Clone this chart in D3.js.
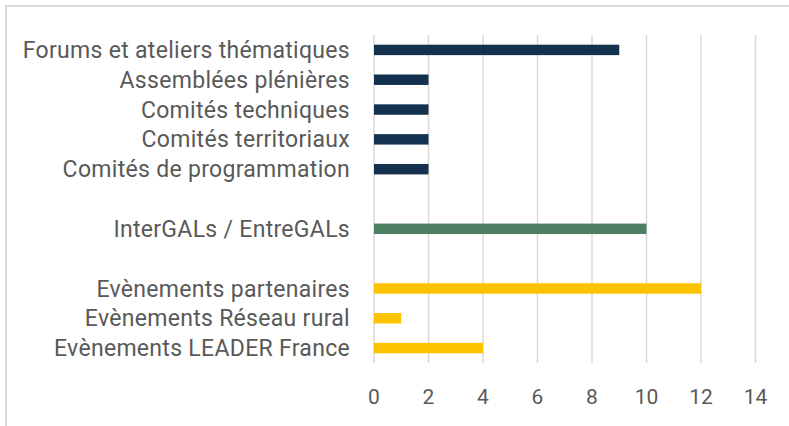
<!DOCTYPE html>
<html>
<head>
<meta charset="utf-8">
<script src="https://cdn.jsdelivr.net/npm/d3@7"></script>
<style>
  body { margin: 0; background: #fff; }
  svg text { font-family: Roboto, "Noto Sans", sans-serif; fill: #595959; }
</style>
</head>
<body>
<div id="chart"></div>
<script>
// categories top to bottom, blank entries are the gaps between groups
const categories = [
    "Forums et ateliers thématiques",
    "Assemblées plénières",
    "Comités techniques",
    "Comités territoriaux",
    "Comités de programmation",
    "",
    "InterGALs / EntreGALs",
    " ",
    "Evènements partenaires",
    "Evènements Réseau rural",
    "Evènements LEADER France"
];
const values = [9, 2, 2, 2, 2, null, 10, null, 12, 1, 4];
const groups = ["a", "a", "a", "a", "a", null, "b", null, "c", "c", "c"];
const xTicks = [0, 2, 4, 6, 8, 10, 12, 14];

const groupColor = { a: "#14324f", b: "#4e7e62", c: "#fcc300" };

const width = 789, height = 426;
const svg = d3.select("#chart").append("svg")
    .attr("width", width)
    .attr("height", height);

// outer frame
svg.append("path")
    .attr("d", `M6,${height} L6,6 L${width},6`)
    .attr("fill", "none")
    .attr("stroke", "#d9d9d9")
    .attr("stroke-width", 2);

const x = d3.scaleLinear().domain([0, 14]).range([374, 755.5]);
const y = d3.scaleBand().domain(categories).range([35, 363]).paddingInner(0.65).paddingOuter(0.325);

// vertical gridlines
svg.append("g")
    .selectAll("line")
    .data(xTicks)
    .join("line")
    .attr("x1", d => x(d))
    .attr("x2", d => x(d))
    .attr("y1", 35)
    .attr("y2", 363)
    .attr("stroke", "#d9d9d9")
    .attr("stroke-width", 1.5);

const rows = categories.map((c, i) => ({ c, v: values[i], g: groups[i] }));

svg.append("g")
    .selectAll("rect")
    .data(rows.filter(d => d.v != null))
    .join("rect")
    .attr("x", x(0))
    .attr("y", d => y(d.c))
    .attr("width", d => x(d.v) - x(0))
    .attr("height", y.bandwidth())
    .attr("fill", d => groupColor[d.g]);

// category labels
svg.append("g")
    .selectAll("text")
    .data(rows.filter(d => d.c.trim() !== ""))
    .join("text")
    .attr("x", 350)
    .attr("y", d => y(d.c) + y.bandwidth() / 2)
    .attr("dy", "0.35em")
    .attr("text-anchor", "end")
    .style("font-size", "23px")
    .style("letter-spacing", "0.3px")
    .text(d => d.c);

// x tick labels
svg.append("g")
    .selectAll("text")
    .data(xTicks)
    .join("text")
    .attr("x", d => x(d))
    .attr("y", 397)
    .attr("dy", "0.35em")
    .attr("text-anchor", "middle")
    .style("font-size", "21px")
    .text(d => d);
</script>
</body>
</html>
